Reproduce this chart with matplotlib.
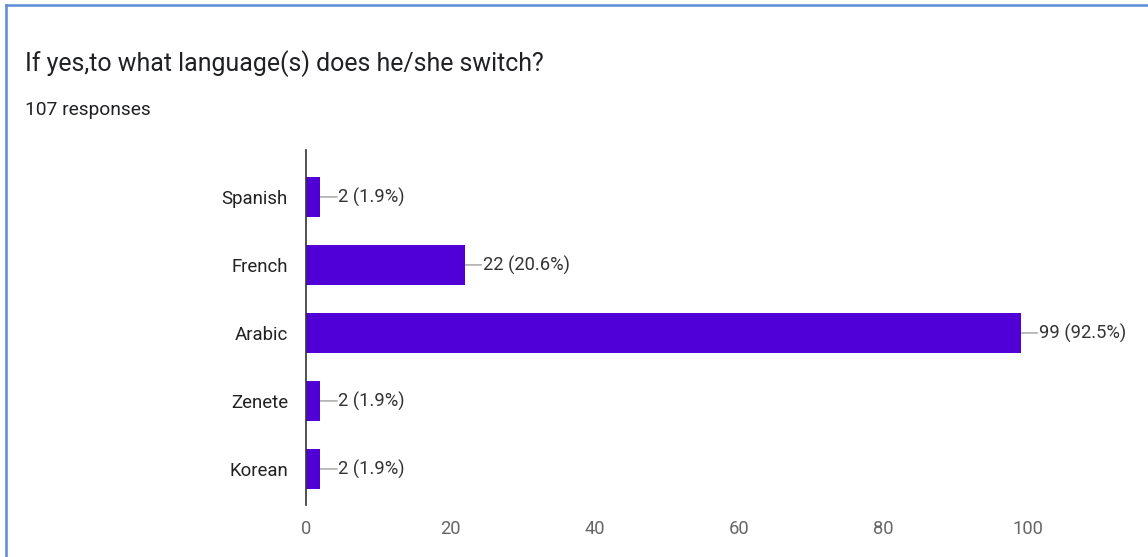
import matplotlib
matplotlib.use("Agg")
import matplotlib.pyplot as plt
from matplotlib.lines import Line2D

categories = ["Spanish", "French", "Arabic", "Zenete", "Korean"]
counts = [2, 22, 99, 2, 2]
percents = [1.9, 20.6, 92.5, 1.9, 1.9]
xticks = [0, 20, 40, 60, 80, 100]

title = "If yes,to what language(s) does he/she switch?"
subtitle = "107 responses"

plt.rcParams["font.family"] = ["Roboto", "DejaVu Sans"]

W, H = 1148, 557
fig = plt.figure(figsize=(W / 100, H / 100), dpi=100)
fig.patch.set_facecolor("white")

# axes placed in pixel terms
ax_left, ax_right, ax_top, ax_bottom = 306, 1130, 150, 505
ax = fig.add_axes([ax_left / W, 1 - ax_bottom / H,
                   (ax_right - ax_left) / W, (ax_bottom - ax_top) / H])

bar_color = "#5000d6"
ypos = list(range(len(categories)))
ax.barh(ypos, counts, height=0.6, color=bar_color, zorder=2)

px_per_unit = 722 / 100.0
ax.set_xlim(0, (ax_right - ax_left) / px_per_unit)
ax.set_ylim(4.53, -0.69)

# value labels with a short grey leader line from the bar end
for y, c, p in zip(ypos, counts, percents):
    ax.annotate("", xy=(c, y), xytext=(12, 0), textcoords="offset points",
                arrowprops=dict(arrowstyle="-", color="#9e9e9e", lw=1,
                                shrinkA=0, shrinkB=0), zorder=1)
    ax.annotate(f"{c} ({p}%)", xy=(c, y), xytext=(13, 0),
                textcoords="offset points", va="center", ha="left",
                fontsize=13.2, color="#333333")

ax.set_yticks(ypos)
ax.set_yticklabels(categories, fontsize=13.4, color="#222222")
ax.set_xticks(xticks)
ax.set_xticklabels([str(t) for t in xticks], fontsize=13.2, color="#666666")
ax.tick_params(axis="y", length=0, pad=13)
ax.tick_params(axis="x", length=0, pad=11)

for s in ["top", "right", "bottom"]:
    ax.spines[s].set_visible(False)
ax.spines["left"].set_color("#333333")
ax.spines["left"].set_linewidth(1.2)
ax.spines["left"].set_zorder(3)
ax.set_facecolor("none")

fig.text(25 / W, 1 - 64 / H, title, fontsize=17.9, color="#202124",
         va="center", ha="left")
fig.text(25 / W, 1 - 110 / H, subtitle, fontsize=13.8, color="#202124",
         va="center", ha="left")

# thin blue frame on the top and left edges
frame = "#5b8bd6"
fig.add_artist(Line2D([6 / W, 1], [1 - 5 / H, 1 - 5 / H], color=frame, lw=1.8,
                      transform=fig.transFigure))
fig.add_artist(Line2D([6 / W, 6 / W], [0, 1 - 5 / H], color=frame, lw=1.8,
                      transform=fig.transFigure))

fig.savefig("out.png", dpi=100, facecolor="white")
